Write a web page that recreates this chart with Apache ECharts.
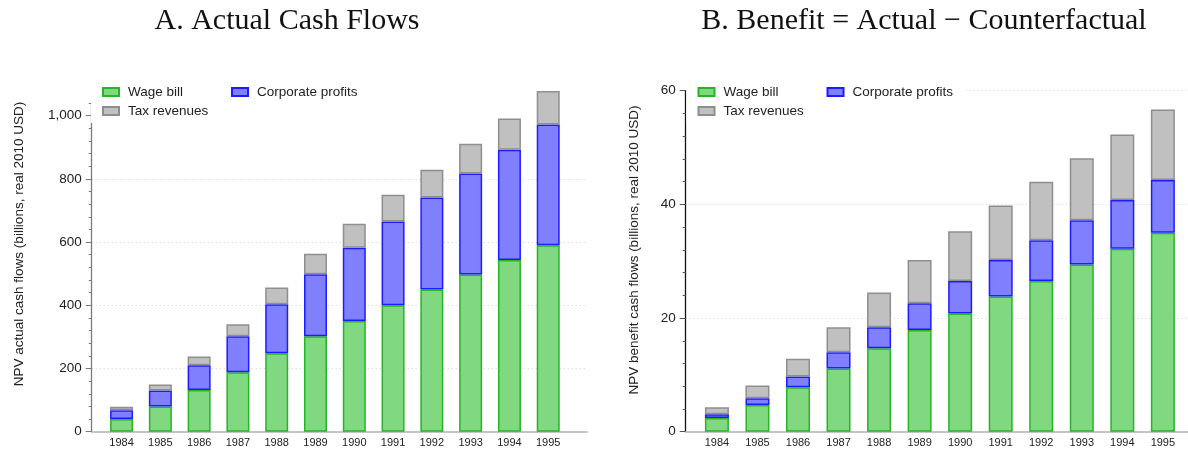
<!DOCTYPE html>
<html>
<head>
<meta charset="utf-8">
<script src="https://cdn.jsdelivr.net/npm/echarts@6/dist/echarts.min.js"></script>
<style>
  html, body { margin: 0; padding: 0; background: #fff; }
  #chart { width: 1188px; height: 451px; }
</style>
</head>
<body>
<div id="chart"></div>
<script>
const years = [1984, 1985, 1986, 1987, 1988, 1989, 1990, 1991, 1992, 1993, 1994, 1995]

// A. actual cash flows (billions, real 2010 USD)
const actualWage = [40, 80, 132, 188, 248, 302, 350, 400, 450, 497, 543, 590]
const actualProfits = [28, 50, 78, 114, 155, 196, 232, 265, 291, 320, 349, 382]
const actualTax = [11, 19, 28, 38, 53, 65, 76, 85, 88, 94, 99, 106]

// B. benefit = actual - counterfactual
const benefitWage = [2.4, 4.7, 7.8, 11.1, 14.7, 17.9, 20.8, 23.8, 26.5, 29.4, 32.2, 35.0]
const benefitProfits = [0.65, 1.2, 1.9, 2.9, 3.7, 4.7, 5.7, 6.4, 7.2, 7.8, 8.55, 9.3]
const benefitTax = [1.25, 2.25, 3.15, 4.4, 6.1, 7.6, 8.75, 9.6, 10.3, 10.9, 11.55, 12.4]

const leftTicks = [0, 200, 400, 600, 800, 1000]
const leftMinorTicks = [0, 40, 80, 120, 160, 200, 240, 280, 320, 360, 400, 440, 480, 520, 560, 600, 640, 680, 720, 760, 800, 840, 880, 920, 960, 1000, 1040]

const colors = {
  wage: { color: '#80d880', borderColor: '#25b525' },
  profits: { color: '#8080ff', borderColor: '#1c1cff' },
  tax: { color: '#c0c0c0', borderColor: '#8e8e8e' }
}

// value first so the stack runs on the y values, year second for x
const pairs = arr => years.map((y, i) => [arr[i], y])

const barSeries = (name, arr, style, idx, width) => ({
  name: name,
  type: 'bar',
  stack: 'panel' + idx,
  xAxisIndex: idx,
  yAxisIndex: idx === 0 ? 0 : 2,
  barWidth: width,
  clip: false,
  encode: { x: 1, y: 0 },
  data: pairs(arr),
  itemStyle: Object.assign({ borderWidth: 1.5 }, style)
})

const dotted = { show: true, lineStyle: { color: '#cfcfcf', width: 1, type: [1, 3] } }
const labelFont = { fontFamily: 'Liberation Sans', color: '#222' }

const xAxisFor = (grid, max) => ({
  type: 'value',
  gridIndex: grid,
  min: 1983.23,
  max: max,
  axisLine: { show: true, lineStyle: { color: '#c4c4c4', width: 2 } },
  axisTick: { show: false },
  splitLine: { show: false },
  axisLabel: Object.assign({ customValues: years, formatter: v => String(v), fontSize: 11, margin: 6 }, labelFont)
})

const legendFor = (x, top, data, bg) => ({
  left: x,
  top: top,
  data: data,
  icon: 'rect',
  itemWidth: 16,
  itemHeight: 8,
  itemGap: 48,
  padding: bg ? [6, 13, 24, 11] : [6, 13, 4, 11],
  backgroundColor: bg ? '#fff' : 'transparent',
  selectedMode: false,
  textStyle: Object.assign({ fontSize: 13.5, padding: [0, 0, 0, 4] }, labelFont)
})

const titleFont = { fontFamily: 'Liberation Serif', fontWeight: 'normal', fontSize: 30, color: '#111' }

const chart = echarts.init(document.getElementById('chart'))
chart.setOption({
  animation: false,
  title: [
    { text: 'A. Actual Cash Flows', left: 282, top: 1, textAlign: 'center', textStyle: titleFont },
    { text: 'B. Benefit = Actual \u2212 Counterfactual', left: 919, top: 1, textAlign: 'center', textStyle: titleFont }
  ],
  grid: [
    { left: 91.7, right: 601, top: 103, bottom: 19.3 },
    { left: 685.7, right: 0, top: 90.7, bottom: 19.3 }
  ],
  legend: [
    legendFor(91, 79, ['Wage bill', 'Corporate profits'], true),
    legendFor(91, 98, ['Tax revenues'], false),
    legendFor(686.5, 79, ['Wage bill', 'Corporate profits'], true),
    legendFor(686.5, 98, ['Tax revenues'], false)
  ],
  xAxis: [xAxisFor(0, 1996), xAxisFor(1, 1995.62)],
  yAxis: [
    {
      type: 'value', gridIndex: 0, position: 'left', min: 0, max: 1040,
      axisLine: { show: true, lineStyle: { color: '#7a7a7a', width: 1.3 } },
      axisTick: { show: true, customValues: leftMinorTicks, length: 3, lineStyle: { color: '#7a7a7a' } },
      axisLabel: Object.assign({ customValues: leftTicks, fontSize: 13.5, margin: 10 }, labelFont),
      splitLine: { show: false }
    },
    {
      type: 'value', gridIndex: 0, position: 'left', min: 0, max: 1040, interval: 200,
      axisLine: { show: false },
      axisTick: { show: true, customValues: leftTicks, length: 6, lineStyle: { color: '#7a7a7a' } },
      axisLabel: { show: false },
      splitLine: Object.assign({ showMaxLine: false }, dotted)
    },
    {
      type: 'value', gridIndex: 1, position: 'left', min: 0, max: 60, interval: 20,
      axisLine: { show: true, lineStyle: { color: '#111', width: 1.3 } },
      axisTick: { show: true, length: 6, lineStyle: { color: '#555' } },
      minorTick: { show: true, splitNumber: 5, length: 3, lineStyle: { color: '#555' } },
      axisLabel: Object.assign({ fontSize: 13.5, margin: 10 }, labelFont),
      splitLine: dotted
    }
  ],
  graphic: [
    { type: 'text', x: 19, y: 244, rotation: Math.PI / 2,
      style: { text: 'NPV actual cash flows (billions, real 2010 USD)', font: '13.5px "Liberation Sans"', fill: '#222', align: 'center', verticalAlign: 'middle' } },
    { type: 'text', x: 634, y: 250, rotation: Math.PI / 2,
      style: { text: 'NPV benefit cash flows (billions, real 2010 USD)', font: '13.5px "Liberation Sans"', fill: '#222', align: 'center', verticalAlign: 'middle' } }
  ],
  series: [
    barSeries('Wage bill', actualWage, colors.wage, 0, 23),
    barSeries('Corporate profits', actualProfits, colors.profits, 0, 23),
    barSeries('Tax revenues', actualTax, colors.tax, 0, 23),
    barSeries('Wage bill', benefitWage, colors.wage, 1, 24),
    barSeries('Corporate profits', benefitProfits, colors.profits, 1, 24),
    barSeries('Tax revenues', benefitTax, colors.tax, 1, 24)
  ]
})
</script>
</body>
</html>
